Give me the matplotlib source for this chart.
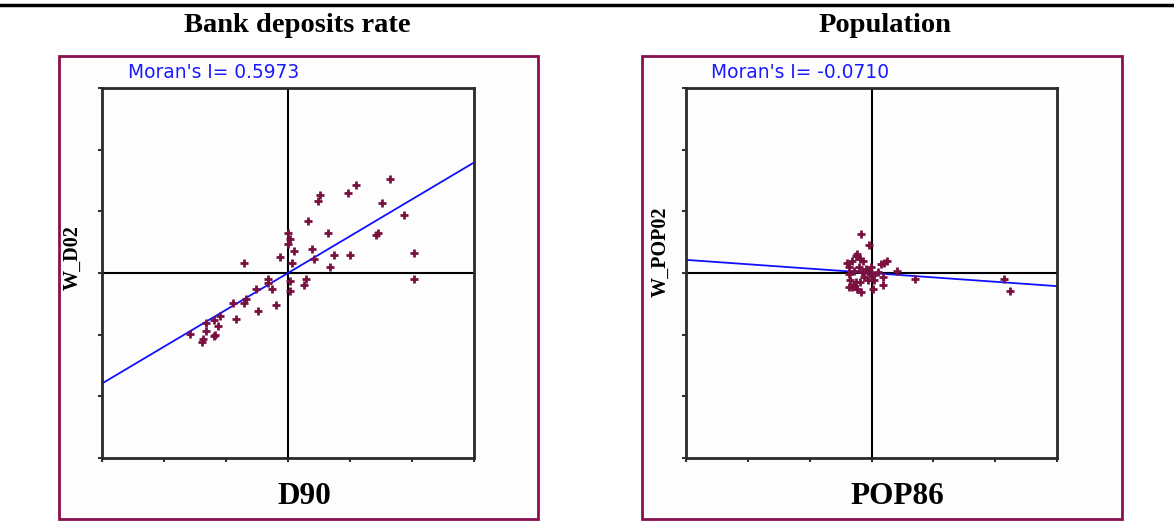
import matplotlib
matplotlib.use("Agg")
import matplotlib.pyplot as plt
from matplotlib.patches import Rectangle
from matplotlib.lines import Line2D
import numpy as np

# ---- data ----
titles = ["Bank deposits rate", "Population"]
x_labels = ["D90", "POP86"]
y_labels = ["W_D02", "W_POP02"]
morans_i = [0.5973, -0.0710]

d90_x = [1.645, 1.097, 0.973, 0.516, 0.484, 1.51, 1.876, 0.323, 0.64, 1.446,
         1.419, 0.0, 0.027, -0.005, 0.097, 0.387, 2.038, 0.742, 1.0, -0.129,
         0.425, 0.065, -0.71, 0.677, 2.038, 0.29, 0.027, 0.258, 0.032, -0.328,
         -0.328, -0.263, -0.516, -0.194, -0.484, -0.882, -0.71, -0.677, -0.839, -1.097,
         -1.199, -1.323, -1.323, -1.129, -1.581, -1.177, -1.194, -1.366, -1.392]
w_d02_y = [1.52, 1.425, 1.29, 1.263, 1.167, 1.134, 0.941, 0.844, 0.65, 0.65,
           0.613, 0.645, 0.554, 0.468, 0.36, 0.392, 0.328, 0.296, 0.296, 0.263,
           0.226, 0.167, 0.167, 0.097, -0.091, -0.091, -0.129, -0.194, -0.29, -0.091,
           -0.161, -0.258, -0.258, -0.516, -0.613, -0.484, -0.484, -0.419, -0.742, -0.704,
           -0.769, -0.812, -0.935, -0.866, -0.995, -1.005, -1.027, -1.07, -1.124]

pop86_x = [-0.17, -0.04, -0.39, -0.32, -0.25, -0.23, -0.18, -0.13, -0.37, -0.20,
           0.21, 0.25, 0.16, 0.41, 0.70, 2.14, 2.24, -0.36, -0.34, -0.36,
           -0.28, -0.23, -0.17, -0.18, -0.12, -0.04, 0.02, 0.04, 0.03, 0.18,
           0.19, -0.01, -0.03, -0.05, -0.25, -0.31, -0.15, -0.09, 0.10, -0.28]
w_pop02_y = [0.63, 0.46, 0.17, 0.20, 0.28, 0.31, 0.23, 0.20, 0.09, 0.10,
             0.17, 0.20, 0.15, 0.04, -0.10, -0.10, -0.29, -0.02, -0.12, -0.23,
             -0.21, -0.26, -0.30, -0.15, -0.07, 0.04, -0.04, -0.11, -0.26, -0.07,
             -0.19, 0.09, -0.02, -0.11, -0.15, -0.23, 0.01, 0.06, 0.01, 0.04]

xs_all = [d90_x, pop86_x]
ys_all = [w_d02_y, w_pop02_y]

# ---- figure ----
W, H = 1174, 531
fig = plt.figure(figsize=(W / 100, H / 100), dpi=100)
fig.patch.set_facecolor("white")

def fx(px):
    return px / W

def fy(py):
    return 1 - py / H

serif = ["Liberation Serif", "DejaVu Serif"]
frame_color = "#8a0f4e"
marker_color = "#7a1040"

# top rule
fig.add_artist(Line2D([0, 1], [fy(5), fy(5)], transform=fig.transFigure,
                      color="black", lw=2.5))

frames = [(59, 538), (642, 1122)]
axes_x = [(102, 474), (686, 1057)]
title_x = [297, 885]
moran_x = [128, 711]
ylab_x = [73, 661]
ylab_y = [258, 252]
xlab_x = [304, 897]

for i in range(2):
    # maroon frame
    fx0, fx1 = frames[i]
    rect = Rectangle((fx(fx0), fy(519)), fx(fx1 - fx0), (519 - 56) / H,
                     transform=fig.transFigure, fill=True,
                     facecolor="#fdfdfd", edgecolor=frame_color, lw=2,
                     zorder=-5)
    fig.add_artist(rect)
    # title
    fig.text(fx(title_x[i]), fy(25), titles[i], ha="center", va="center",
             fontsize=20.5, fontweight="bold", family=serif)
    # Moran text
    fig.text(fx(moran_x[i]), fy(72), "Moran's I= %.4f" % morans_i[i],
             ha="left", va="center", fontsize=13.4, color="#1a1aff",
             family=["DejaVu Sans"])
    # labels
    fig.text(fx(ylab_x[i]), fy(ylab_y[i]), y_labels[i], rotation=90, ha="center",
             va="center", fontsize=14.5, fontweight="bold", family=serif)
    fig.text(fx(xlab_x[i]), fy(497), x_labels[i], ha="center", va="center",
             fontsize=22.5, fontweight="bold", family=serif)

    ax0, ax1 = axes_x[i]
    ax = fig.add_axes([fx(ax0), fy(458), (ax1 - ax0) / W, (458 - 88) / H])
    ax.set_zorder(2)
    ax.set_facecolor("#fdfdfd")
    ax.set_xlim(-3, 3)
    ax.set_ylim(-3, 3)
    ax.set_xticks(np.arange(-3, 4))
    ax.set_yticks(np.arange(-3, 4))
    ax.set_xticklabels([])
    ax.set_yticklabels([])
    ax.tick_params(direction="out", length=3, width=1.5, color="#333333")
    for s in ax.spines.values():
        s.set_color("#2a2a2a")
        s.set_linewidth(2)
    ax.axhline(0, color="black", lw=1.5, zorder=1)
    ax.axvline(0, color="black", lw=1.5, zorder=1)
    xl = np.array([-3, 3])
    ax.plot(xl, morans_i[i] * xl, color="#1010ff", lw=1.3, zorder=2)
    ax.plot(xs_all[i], ys_all[i], linestyle="none", marker="+", markersize=6,
            markeredgewidth=2, color=marker_color, zorder=3)

fig.savefig("out.png", dpi=100)
